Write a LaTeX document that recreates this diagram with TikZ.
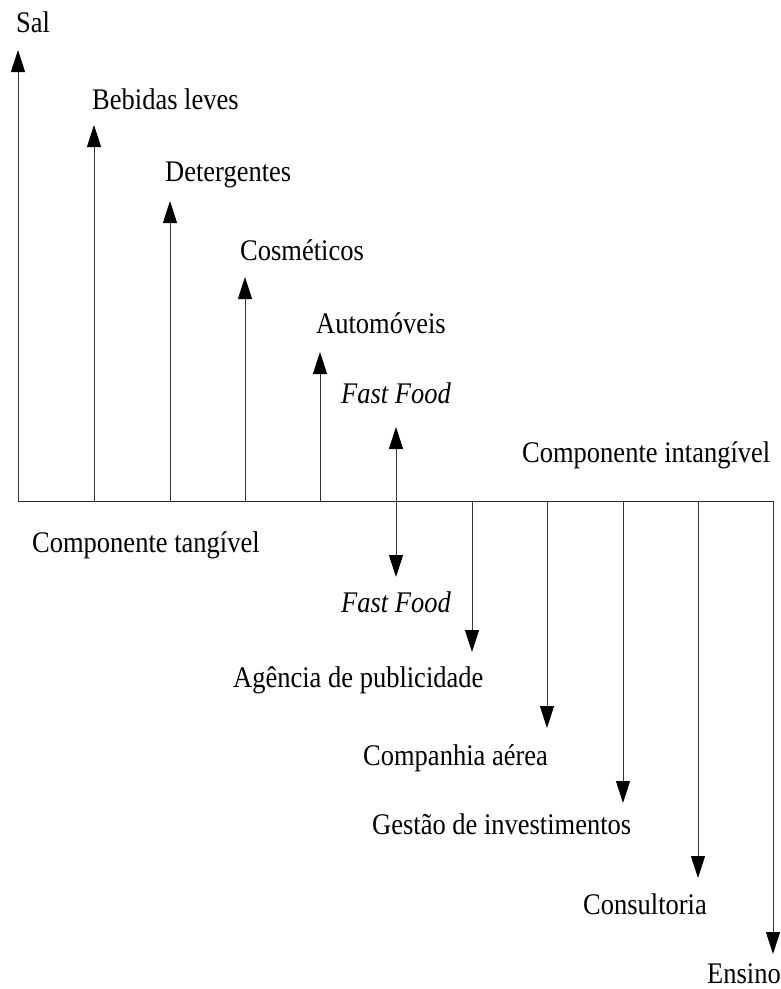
\documentclass[tikz,border=0pt]{standalone}
\usepackage{fontspec}
\setmainfont{Liberation Serif}
\usetikzlibrary{arrows.meta}
% labels are set a little taller than the plain face
\newcommand{\tallface}[1]{\scalebox{1}[1.13]{#1}}
\begin{document}
\begin{tikzpicture}[x=1pt,y=-1pt,
  tip/.tip={Triangle[width=14pt,length=22pt,color=black]},
  axis/.style={line width=1pt,draw=black!85},
  link/.style={line width=1pt,draw=black!80,-tip},
  twoway/.style={line width=1pt,draw=black!80,tip-tip},
  lab/.style={inner sep=0pt,anchor=base west,font=\fontsize{26.5}{30}\selectfont},
  ilab/.style={inner sep=0pt,anchor=base,font=\fontsize{26.5}{30}\selectfont\itshape}]
\useasboundingbox (0,0) rectangle (780,989);

% baseline of the scale and its corner
\coordinate (L) at (18,501);
\coordinate (R) at (773,501);
\draw[axis] (L) -- (R);

% foot points on the baseline
\coordinate (b1) at (94,501);
\coordinate (b2) at (170,501);
\coordinate (b3) at (245,501);
\coordinate (b4) at (320,501);
\coordinate (b6) at (472,501);
\coordinate (b7) at (547,501);
\coordinate (b8) at (623,501);
\coordinate (b9) at (698,501);

% arrow tips
\coordinate (t0) at (18,50);
\coordinate (t1) at (94,125);
\coordinate (t2) at (170,201);
\coordinate (t3) at (245,277);
\coordinate (t4) at (320,352);
\coordinate (t5u) at (396,427);
\coordinate (t5d) at (396,577);
\coordinate (t6) at (472,652);
\coordinate (t7) at (547,728);
\coordinate (t8) at (623,803);
\coordinate (t9) at (698,878);
\coordinate (t10) at (773,954);

% tangible side (up)
\draw[link] (L) -- (t0);
\draw[link] (b1) -- (t1);
\draw[link] (b2) -- (t2);
\draw[link] (b3) -- (t3);
\draw[link] (b4) -- (t4);
\draw[twoway] (t5d) -- (t5u);

% intangible side (down)
\draw[link] (b6) -- (t6);
\draw[link] (b7) -- (t7);
\draw[link] (b8) -- (t8);
\draw[link] (b9) -- (t9);
\draw[link] (R) -- (t10);

% labels
\node[lab] (sal) at (16,32) {\tallface{Sal}};
\node[lab] (beb) at (92,109) {\tallface{Bebidas leves}};
\node[lab] (det) at (165,181) {\tallface{Detergentes}};
\node[lab] (cos) at (240,260) {\tallface{Cosméticos}};
\node[lab] (aut) at (316,333) {\tallface{Automóveis}};
\node[ilab] (ffu) at (396,403) {\tallface{Fast Food}};
\node[lab] (cint) at (522,462) {\tallface{Componente intangível}};
\node[lab] (ctan) at (32,552) {\tallface{Componente tangível}};
\node[ilab] (ffd) at (396,612) {\tallface{Fast Food}};
\node[lab] (agp) at (233,687) {\tallface{Agência de publicidade}};
\node[lab] (cia) at (363,765) {\tallface{Companhia aérea}};
\node[lab] (gin) at (372,834) {\tallface{Gestão de investimentos}};
\node[lab] (con) at (583,914) {\tallface{Consultoria}};
\node[lab] (ens) at (707,983) {\tallface{Ensino}};
\end{tikzpicture}
\end{document}
